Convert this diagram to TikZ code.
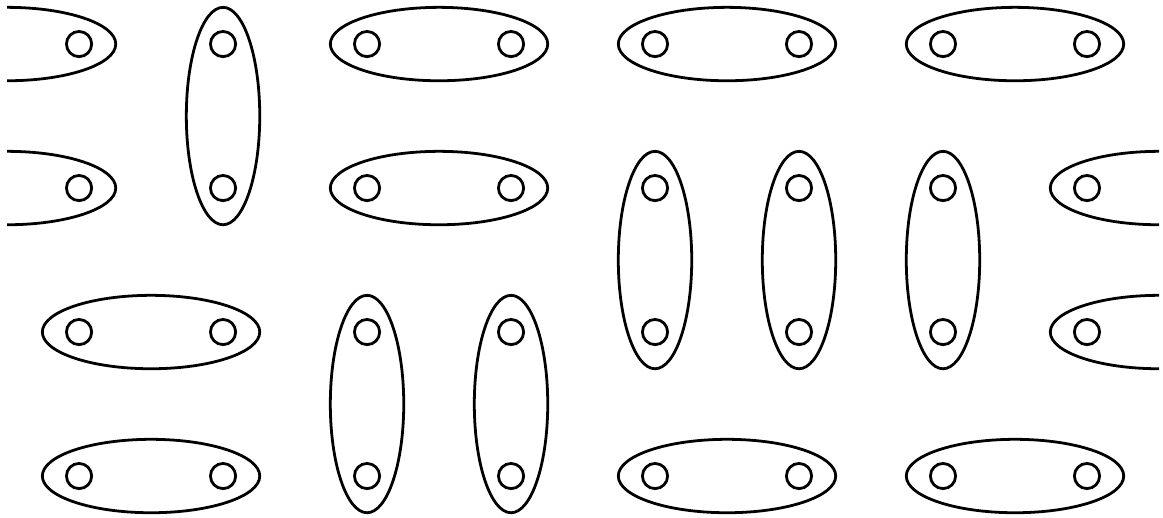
\documentclass[tikz,border=0pt]{standalone}
\usetikzlibrary{shapes.geometric,calc}
\tikzset{
  site/.style={circle,draw,line width=0.55pt,minimum size=0.175cm,inner sep=0pt},
  dimer/.style={ellipse,draw,line width=0.55pt,minimum width=1.51cm,minimum height=0.51cm,inner sep=0pt},
}

\begin{document}
\begin{tikzpicture}
  \useasboundingbox (-0.549,0.306) rectangle (7.528,-3.291);
  \begin{scope}
    \clip (-0.5,0.306) rectangle (7.5,-3.291);
    % lattice points (periodic copies at -1 and 8)
    \foreach \i in {-1,...,8}
      \foreach \j in {0,...,3}
        \coordinate (p-\i-\j) at (\i,-\j);
    % horizontal dimers
    \foreach \a/\b/\r in {-1/0/0,2/3/0,4/5/0,6/7/0,-1/0/1,2/3/1,7/8/1,
                          0/1/2,7/8/2,0/1/3,4/5/3,6/7/3}
      \node[dimer] (h-\a-\r) at ($(p-\a-\r)!0.5!(p-\b-\r)$) {};
    % vertical dimers
    \foreach \c/\r in {1/0,4/1,5/1,6/1,2/2,3/2}
      \node[dimer,rotate=90] (v-\c-\r) at ($(p-\c-\r)+(0,-0.5)$) {};
    % sites
    \foreach \i in {0,...,7}
      \foreach \j in {0,...,3}
        \node[site] (s-\i-\j) at (p-\i-\j) {};
  \end{scope}
\end{tikzpicture}
\end{document}
